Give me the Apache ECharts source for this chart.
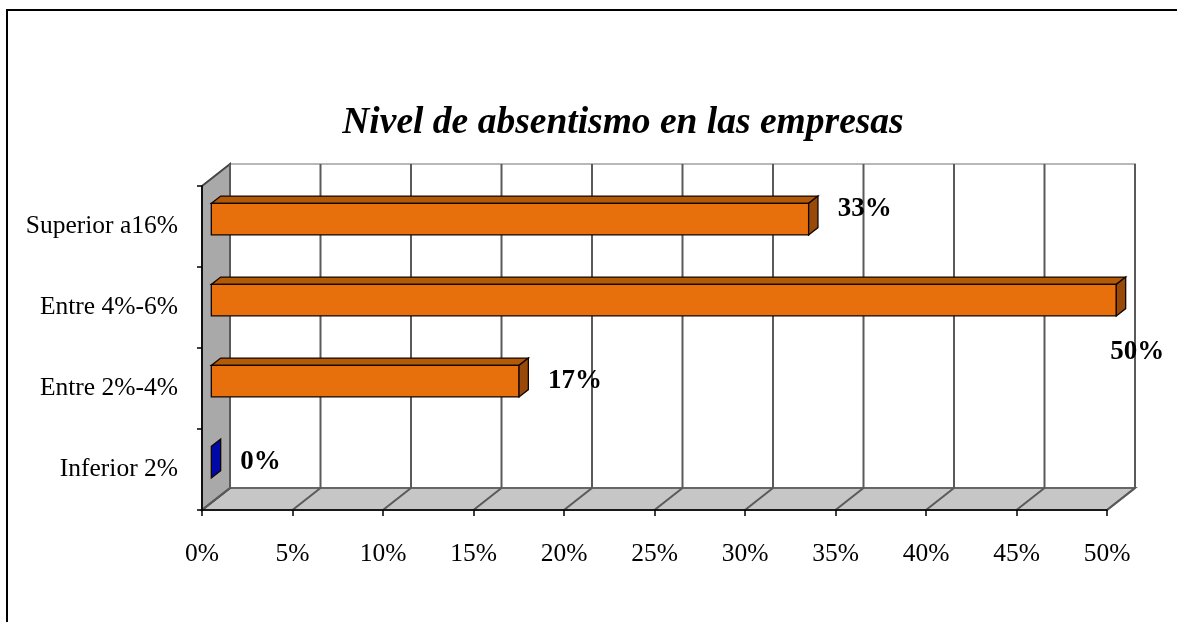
<!DOCTYPE html>
<html>
<head>
<meta charset="utf-8">
<script src="https://cdn.jsdelivr.net/npm/echarts@6/dist/echarts.min.js"></script>
<style>
  html, body { margin: 0; padding: 0; background: #fff; }
  #main { width: 1177px; height: 622px; }
</style>
</head>
<body>
<div id="main"></div>
<script>
// datos del grafico
var categories = ['Inferior 2%', 'Entre 2%-4%', 'Entre 4%-6%', 'Superior a16%'];
var shares = [0, 17, 50, 33];
var xTicks = [0, 5, 10, 15, 20, 25, 30, 35, 40, 45, 50];

// profundidad del efecto 3D
var DX = 28, DY = -22;
var SERIF = '"Liberation Serif", "Times New Roman", serif';

// ajuste de etiquetas (como las coloca Excel)
var labelNudge = { 'Superior a16%': [0, -10], 'Entre 4%-6%': [-35, 52] };

var orange = { front: '#E8700C', top: '#B35A06', side: '#9A4A08' };
var blue = { front: '#0010C0', top: '#000C90', side: '#0008A8' };

var chart = echarts.init(document.getElementById('main'));

function renderWalls(params, api) {
    var cs = params.coordSys;
    var l = cs.x, t = cs.y, r = cs.x + cs.width, b = cs.y + cs.height;
    return {
        type: 'group',
        children: [
            { type: 'polygon', shape: { points: [[l + DX, t + DY], [r + DX, t + DY], [r + DX, b + DY], [l + DX, b + DY]] },
              style: { fill: '#fff', stroke: '#b8b8b8', lineWidth: 2 } },
            { type: 'polygon', shape: { points: [[l, b], [l + DX, b + DY], [r + DX, b + DY], [r, b]] },
              style: { fill: '#c6c6c6', stroke: '#666', lineWidth: 2 } },
            { type: 'polygon', shape: { points: [[l, t], [l + DX, t + DY], [l + DX, b + DY], [l, b]] },
              style: { fill: '#a9a9a9', stroke: '#444', lineWidth: 2 } }
        ]
    };
}

function renderGrid(params, api) {
    var cs = params.coordSys;
    var t = cs.y, b = cs.y + cs.height;
    var x = api.coord([api.value(0), 0])[0];
    return {
        type: 'group',
        children: [
            { type: 'line', shape: { x1: x + DX, y1: t + DY, x2: x + DX, y2: b + DY },
              style: { stroke: '#5a5a5a', lineWidth: 2 } },
            { type: 'line', shape: { x1: x, y1: b, x2: x + DX, y2: b + DY },
              style: { stroke: '#5a5a5a', lineWidth: 2 } }
        ]
    };
}

function renderBar(params, api) {
    var val = api.value(0), cat = api.value(1);
    var p0 = api.coord([0, cat]), p1 = api.coord([val, cat]);
    var band = api.size([0, 1])[1];
    var h = band * 0.39;
    var fx = DX / 3, fy = DY / 3;
    var x0 = p0[0] + fx, x1 = p1[0] + fx;
    var yc = p0[1] + fy, top = yc - h / 2, bot = yc + h / 2;
    var c = cat === 0 ? blue : orange;
    var name = categories[cat];
    var nudge = labelNudge[name] || [0, 0];
    var children = [];
    if (x1 - x0 > 0.5) {
        children.push({ type: 'polygon', shape: { points: [[x0, top], [x1, top], [x1 + fx, top + fy], [x0 + fx, top + fy]] },
            style: { fill: c.top, stroke: '#120600', lineWidth: 1.3 } });
        children.push({ type: 'rect', shape: { x: x0, y: top, width: x1 - x0, height: h },
            style: { fill: c.front, stroke: '#120600', lineWidth: 1.3 } });
    }
    children.push({ type: 'polygon', shape: { points: [[x1, top], [x1, bot], [x1 + fx, bot + fy], [x1 + fx, top + fy]] },
        style: { fill: c.side, stroke: '#120600', lineWidth: 1.3 } });
    children.push({ type: 'text', x: x1 + 29 + nudge[0], y: yc + nudge[1],
        style: { text: shares[cat] + '%', fontFamily: SERIF, fontWeight: 'bold', fontSize: 27,
                 fill: '#000', align: 'left', verticalAlign: 'middle' } });
    return { type: 'group', children: children };
}

var option = {
    animation: false,
    backgroundColor: '#fff',
    title: {
        text: 'Nivel de absentismo en las empresas',
        left: 618,
        top: 99,
        textAlign: 'center',
        textStyle: { fontFamily: SERIF, fontSize: 37.5, fontWeight: 'bold', fontStyle: 'italic', color: '#000' }
    },
    graphic: [
        { type: 'rect', shape: { x: 7, y: 10, width: 1250, height: 700 },
          style: { fill: 'none', stroke: '#000', lineWidth: 2 }, z: 100 }
    ],
    grid: { left: 202, right: 70, top: 186, height: 324, containLabel: false },
    xAxis: {
        type: 'value', min: 0, max: 50, interval: 5, z: 10,
        axisLine: { show: true, lineStyle: { color: '#000', width: 1.5 } },
        axisTick: { show: true, length: 6, lineStyle: { color: '#000', width: 1.5 } },
        splitLine: { show: false },
        axisLabel: { formatter: '{value}%', margin: 31, fontFamily: SERIF, fontSize: 25.5, color: '#000' }
    },
    yAxis: {
        type: 'category', data: categories, z: 10,
        axisLine: { show: true, lineStyle: { color: '#000', width: 1.5 } },
        axisTick: { show: true, length: 5, lineStyle: { color: '#000', width: 1.5 } },
        axisLabel: { margin: 24, fontFamily: SERIF, fontSize: 25.5, color: '#000', interval: 0 }
    },
    series: [
        { type: 'custom', name: 'paredes', renderItem: renderWalls, data: [[0, 0]], z: 1, silent: true },
        { type: 'custom', name: 'rejilla', renderItem: renderGrid, encode: { x: 0, y: 1 },
          data: xTicks.map(function (v) { return [v, 0]; }), z: 2, silent: true },
        { type: 'custom', name: 'Nivel de absentismo', renderItem: renderBar, encode: { x: 0, y: 1 },
          data: shares.map(function (v, i) { return [v, i]; }), z: 3, clip: false }
    ]
};
chart.setOption(option);
</script>
</body>
</html>
